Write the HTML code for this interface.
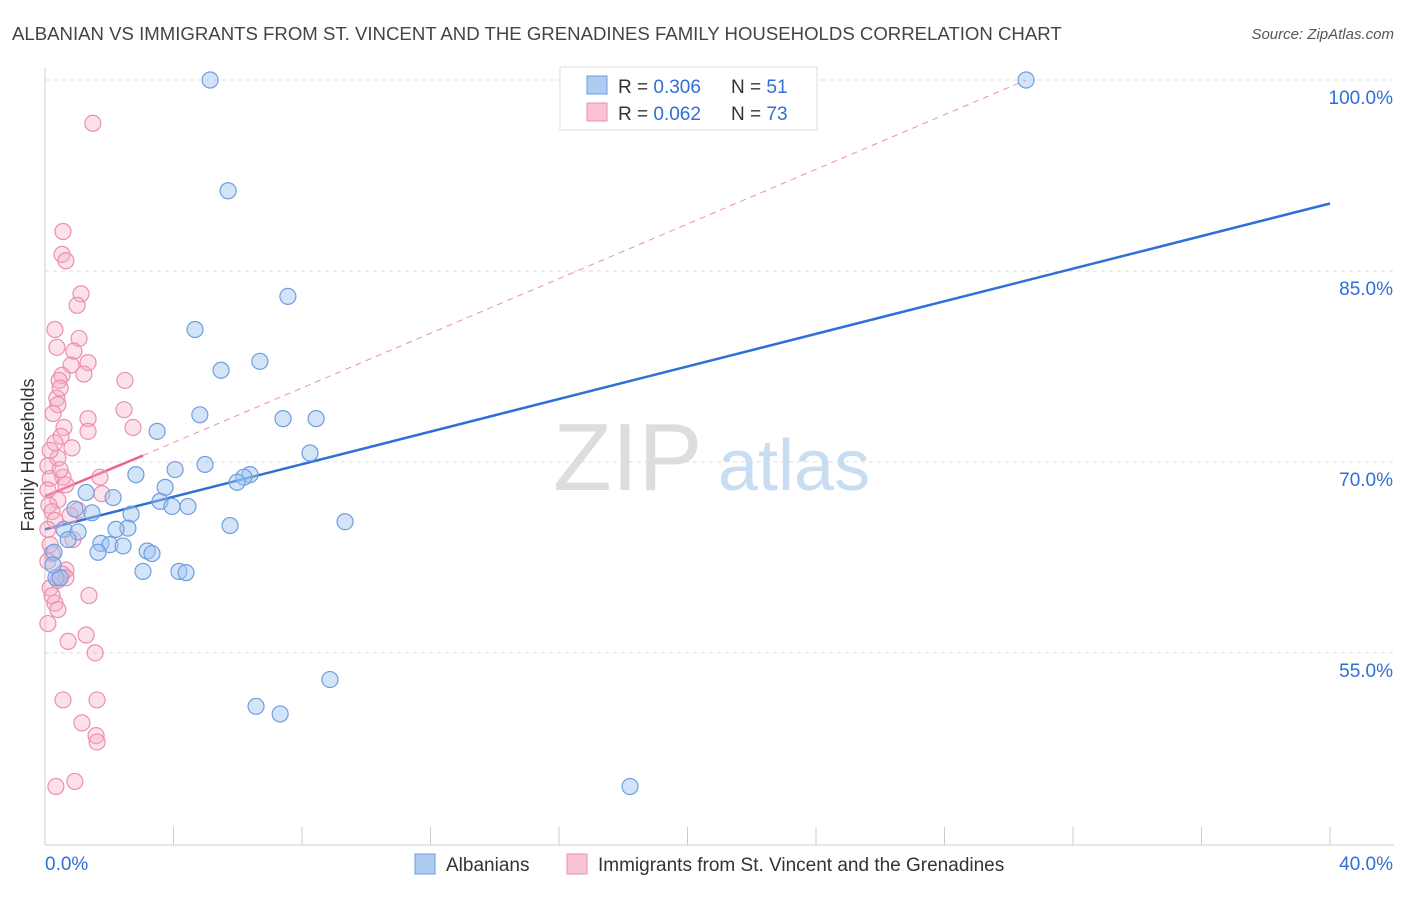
<!DOCTYPE html>
<html><head><meta charset="utf-8"><style>
body{margin:0;background:#fff;font-family:"Liberation Sans",sans-serif;}
svg text{font-family:"Liberation Sans",sans-serif;}
</style></head><body>
<svg id="chart" width="1406" height="892" xmlns="http://www.w3.org/2000/svg">
<text x="12" y="40" font-size="18.6" fill="#444">ALBANIAN VS IMMIGRANTS FROM ST. VINCENT AND THE GRENADINES FAMILY HOUSEHOLDS CORRELATION CHART</text>
<text x="1394" y="39" font-size="15" fill="#555" text-anchor="end" font-style="italic">Source: ZipAtlas.com</text>
<text x="553" y="490" font-size="96" fill="#ddd" font-family="Liberation Serif">ZIP</text>
<text x="718" y="490" font-size="72" fill="#c8dcf2">atlas</text>
<text transform="translate(34,455) rotate(-90)" font-size="18" fill="#333" text-anchor="middle">Family Households</text>
<g id="grid"></g><g id="axes"></g><g id="trend"></g><g id="pts"></g>
<g>
<rect x="560" y="67" width="257" height="63" fill="#fff" stroke="#ddd"/>
<rect x="587" y="76" width="20" height="18" fill="#aecbf2" stroke="#6d9ee0"/>
<text x="618" y="93" font-size="19" fill="#333">R = <tspan fill="#2f6fd6">0.306</tspan></text>
<text x="731" y="93" font-size="19" fill="#333">N = <tspan fill="#2f6fd6">51</tspan></text>
<rect x="587" y="103" width="20" height="18" fill="#f8c3d4" stroke="#eb8fae"/>
<text x="618" y="120" font-size="19" fill="#333">R = <tspan fill="#2f6fd6">0.062</tspan></text>
<text x="731" y="120" font-size="19" fill="#333">N = <tspan fill="#2f6fd6">73</tspan></text>
</g>
<g>
<rect x="415" y="854" width="20" height="20" fill="#aecbf2" stroke="#6d9ee0"/>
<text x="446" y="871" font-size="19" fill="#333">Albanians</text>
<rect x="567" y="854" width="20" height="20" fill="#f8c3d4" stroke="#eb8fae"/>
<text x="598" y="871" font-size="19" fill="#333">Immigrants from St. Vincent and the Grenadines</text>
</g>
</svg>
<script>
const blueX=[5.14,30.54,5.70,7.56,4.67,6.69,5.48,4.82,7.41,8.44,3.49,8.25,4.05,4.98,2.83,6.38,6.19,5.98,3.74,1.28,2.12,3.58,3.95,4.45,0.93,1.46,2.68,9.34,5.76,2.58,2.21,0.59,1.03,0.72,1.74,2.02,2.43,1.65,3.18,3.33,0.28,0.34,3.05,4.17,4.39,0.47,8.87,6.57,7.32,18.21,0.25];
const blueY=[100,100,91.3,83.0,80.4,77.9,77.2,73.7,73.4,73.4,72.4,70.7,69.4,69.8,69.0,69.0,68.8,68.4,68.0,67.6,67.2,66.9,66.5,66.5,66.3,66.0,65.9,65.3,65.0,64.8,64.7,64.7,64.5,63.9,63.6,63.5,63.4,62.9,63.0,62.8,62.9,60.9,61.4,61.4,61.3,60.9,52.9,50.8,50.2,44.5,61.9];
const pinkX=[1.49,0.56,0.53,0.65,1.12,1.00,0.31,1.06,0.37,0.90,1.34,0.81,1.21,0.53,2.49,0.44,0.37,0.40,2.46,0.25,1.34,0.59,2.74,1.34,0.50,0.31,0.84,0.09,0.56,1.71,0.16,0.65,1.77,0.40,0.12,1.03,0.22,0.87,0.16,0.22,0.09,0.65,0.53,0.40,0.65,0.16,1.37,0.31,0.40,0.09,1.28,0.72,1.56,0.56,1.62,1.15,1.59,1.62,0.34,0.93,0.09,0.31,0.78,0.09,0.47,0.22,0.40,0.16,0.47];
const pinkY=[96.6,88.1,86.3,85.8,83.2,82.3,80.4,79.7,79.0,78.7,77.8,77.6,76.9,76.8,76.4,76.4,75.0,74.5,74.1,73.8,73.4,72.7,72.7,72.4,72.0,71.5,71.1,69.7,68.8,68.8,68.7,68.2,67.5,67.0,66.6,66.2,66.1,63.9,63.5,62.8,62.2,61.5,61.2,60.7,60.9,60.1,59.5,58.9,58.4,57.3,56.4,55.9,55.0,51.3,51.3,49.5,48.5,48.0,44.5,44.9,67.8,65.4,65.8,64.7,69.4,59.5,70.3,70.9,75.8];
const yTicks=[100,85,70,55];
const yTickLabels=["100.0%","85.0%","70.0%","55.0%"];
const xTickVals=[0,4,8,12,16,20,24,28,32,36,40];
const xEndLabels=["0.0%","40.0%"];
const blueTrendX=[0,40],blueTrendY=[64.7,90.3];
const pinkTrendX=[0,3.05],pinkTrendY=[67.3,70.5];
const pinkDashX=[3.05,30.54],pinkDashY=[70.5,100];

const NS="http://www.w3.org/2000/svg";
const sx=v=>45+v*32.125;
const sy=v=>80+(100-v)*12.73;
function mk(tag,attrs,parent){const e=document.createElementNS(NS,tag);for(const k in attrs)e.setAttribute(k,attrs[k]);parent.appendChild(e);return e;}
const grid=document.getElementById('grid'),axes=document.getElementById('axes'),trend=document.getElementById('trend'),pts=document.getElementById('pts');
yTicks.forEach((t,i)=>{
  const l=mk('line',{x1:45,x2:1394,y1:sy(t),y2:sy(t),stroke:'#ddd','stroke-dasharray':'4,4'},grid);
  
  
  const tx=mk('text',{x:1393,y:sy(t)+24,'font-size':19,fill:'#2f6fd6','text-anchor':'end'},grid);
  tx.textContent=yTickLabels[i];
  
  
});
const xa=mk('line',{x1:45,x2:1394,y1:845,y2:845,stroke:'#ccc'},axes);


const ya=mk('line',{x1:45,x2:45,y1:68,y2:845,stroke:'#ccc'},axes);


xTickVals.forEach(v=>{
  const t=mk('line',{x1:sx(v),x2:sx(v),y1:827,y2:845,stroke:'#ccc'},axes);
  
  
});
[[0,'start',45],[1,'end',1393]].forEach(([i,a,x])=>{
  const t=mk('text',{x:x,y:870,'font-size':19,fill:'#2f6fd6','text-anchor':a},axes);
  t.textContent=xEndLabels[i];
  
  
});
const bt=mk('line',{x1:sx(blueTrendX[0]),y1:sy(blueTrendY[0]),x2:sx(blueTrendX[1]),y2:sy(blueTrendY[1]),stroke:'#2f6fd6','stroke-width':2.5},trend);


const pd=mk('line',{x1:sx(pinkDashX[0]),y1:sy(pinkDashY[0]),x2:sx(pinkDashX[1]),y2:sy(pinkDashY[1]),stroke:'#eb8fae','stroke-width':1,'stroke-dasharray':'6,5'},trend);


const pt=mk('line',{x1:sx(pinkTrendX[0]),y1:sy(pinkTrendY[0]),x2:sx(pinkTrendX[1]),y2:sy(pinkTrendY[1]),stroke:'#e8648f','stroke-width':2.5},trend);


pinkX.forEach((x,i)=>{
  const c=mk('circle',{cx:sx(x),cy:sy(pinkY[i]),r:8,fill:'rgba(245,170,195,0.35)',stroke:'#eb8fae','stroke-width':1.2},pts);
  
  
});
blueX.forEach((x,i)=>{
  const c=mk('circle',{cx:sx(x),cy:sy(blueY[i]),r:8,fill:'rgba(160,195,240,0.45)',stroke:'#6d9ee0','stroke-width':1.2},pts);
  
  
});
</script>
</body></html>
